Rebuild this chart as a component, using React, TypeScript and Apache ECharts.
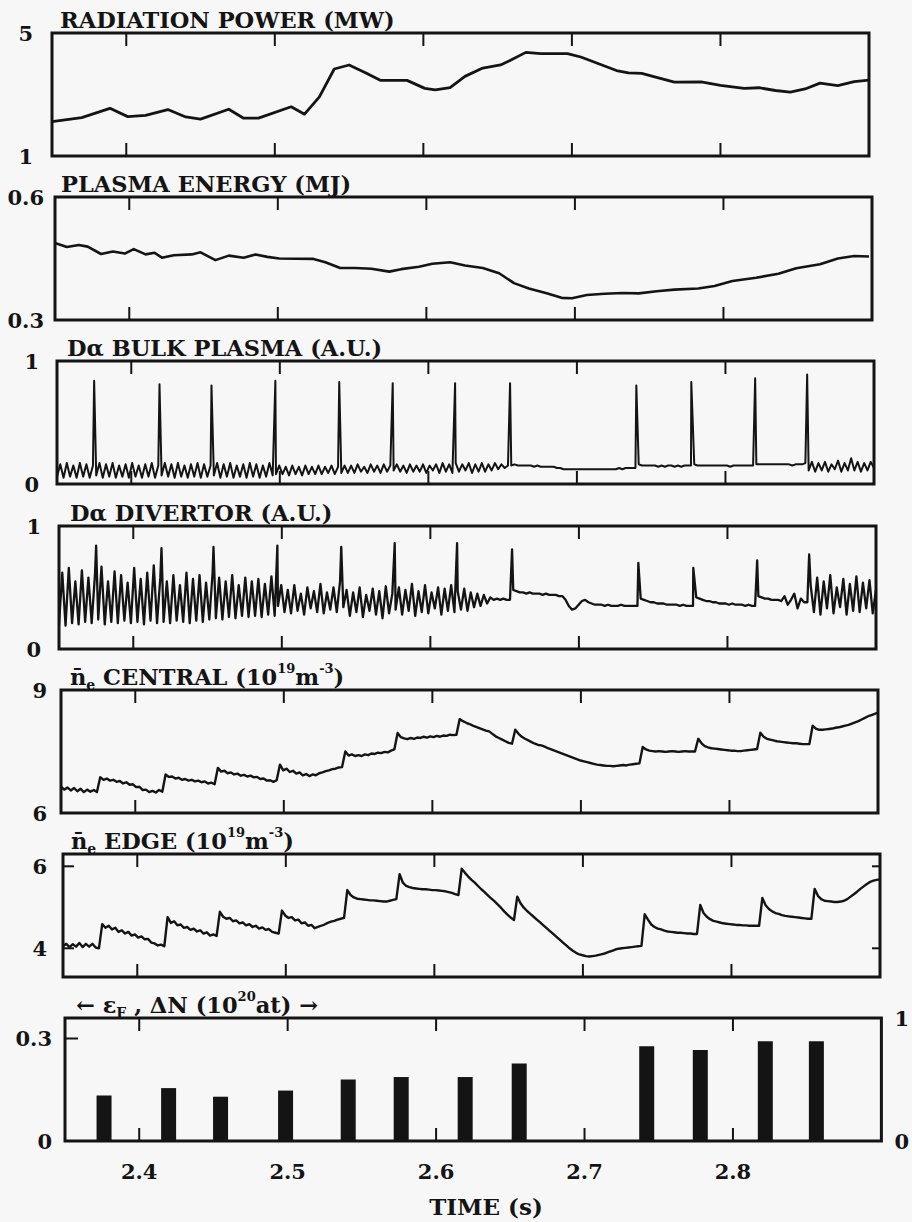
import React, { useEffect, useRef } from "react";
import * as echarts from "echarts";

// ---------------- data ----------------
const T_MIN = 2.35;
const T_MAX = 2.9;
const timeTicks = [2.4, 2.5, 2.6, 2.7, 2.8];

const panelTitles = [
  "{t|RADIATION POWER (MW)}",
  "{t|PLASMA ENERGY (MJ)}",
  "{t|Dα BULK PLASMA (A.U.)}",
  "{t|Dα DIVERTOR (A.U.)}",
  "{t|n\u0304}{sub|e}{t| CENTRAL (10}{sup|19}{t|m}{sup|-3}{t|)}",
  "{t|n\u0304}{sub|e}{t| EDGE (10}{sup|19}{t|m}{sup|-3}{t|)}",
  "{t|← ε}{sub|F}{t| , ΔN (10}{sup|20}{t|at) →}",
];
const xAxisTitle = "TIME (s)";

const yRanges: [number, number][] = [
  [1, 5],
  [0.3, 0.6],
  [0, 1],
  [0, 1],
  [6, 9],
  [3.3, 6.3],
  [0, 0.36],
];
const yLabelValues = [[1, 5], [0.3, 0.6], [0, 1], [0, 1], [6, 9], [4, 6], [0, 0.3]];
const rightLabelValues = [0, 1];
const edgeDensityTicks = [4, 6];
const fuellingTicks = [0.3];

// radiation power (MW): [time s, value]
const radiationPower: [number, number][] = [
  [2.35, 2.12], [2.37, 2.25], [2.389, 2.55], [2.401, 2.28], [2.413, 2.32], [2.428, 2.51],
  [2.44, 2.27], [2.45, 2.2], [2.469, 2.52], [2.479, 2.23], [2.489, 2.23], [2.511, 2.6],
  [2.52, 2.36], [2.53, 2.92], [2.54, 3.83], [2.55, 3.96], [2.561, 3.71], [2.571, 3.46],
  [2.589, 3.46], [2.601, 3.2], [2.608, 3.15], [2.618, 3.22], [2.628, 3.59], [2.64, 3.86],
  [2.652, 3.96], [2.659, 4.12], [2.669, 4.37], [2.679, 4.33], [2.697, 4.33], [2.706, 4.22],
  [2.718, 4.0], [2.73, 3.78], [2.738, 3.7], [2.747, 3.69], [2.757, 3.56], [2.769, 3.4],
  [2.787, 3.41], [2.8, 3.3], [2.816, 3.2], [2.826, 3.22], [2.837, 3.13], [2.847, 3.08],
  [2.857, 3.18], [2.867, 3.37], [2.879, 3.29], [2.89, 3.42], [2.9, 3.47],
];

// plasma energy (MJ): [time s, value]
const plasmaEnergy: [number, number][] = [
  [2.35, 0.488], [2.358, 0.478], [2.366, 0.483], [2.372, 0.479], [2.381, 0.461], [2.389, 0.467],
  [2.397, 0.462], [2.403, 0.473], [2.411, 0.46], [2.417, 0.464], [2.422, 0.452], [2.43, 0.458],
  [2.442, 0.46], [2.448, 0.465], [2.458, 0.446], [2.467, 0.457], [2.477, 0.452], [2.485, 0.46],
  [2.493, 0.454], [2.501, 0.45], [2.524, 0.449], [2.532, 0.441], [2.542, 0.427], [2.552, 0.427],
  [2.563, 0.425], [2.575, 0.418], [2.583, 0.424], [2.595, 0.43], [2.604, 0.437], [2.616, 0.441],
  [2.626, 0.433], [2.638, 0.427], [2.649, 0.414], [2.659, 0.39], [2.669, 0.377], [2.681, 0.365],
  [2.691, 0.354], [2.698, 0.353], [2.708, 0.361], [2.72, 0.364], [2.732, 0.366], [2.743, 0.365],
  [2.755, 0.37], [2.767, 0.374], [2.783, 0.377], [2.794, 0.383], [2.806, 0.395], [2.822, 0.403],
  [2.837, 0.413], [2.849, 0.426], [2.865, 0.436], [2.877, 0.45], [2.888, 0.456], [2.898, 0.455],
];

// ELM spikes
const elmTimes = [2.375, 2.419, 2.454, 2.497, 2.54, 2.576, 2.618, 2.655, 2.74, 2.777, 2.82, 2.855];
const bulkElmPeaks = [0.84, 0.81, 0.8, 0.84, 0.83, 0.82, 0.82, 0.82, 0.8, 0.83, 0.86, 0.89];
const divertorElmPeaks = [0.84, 0.82, 0.83, 0.84, 0.83, 0.86, 0.86, 0.81, 0.7, 0.66, 0.72, 0.77];

// sampled traces: one value every SAMPLE_DT seconds from SAMPLE_T0
const SAMPLE_T0 = 2.35;
const SAMPLE_DT = 0.0022;

// D-alpha bulk plasma, percent of full scale
const daBulk = [
  6, 16, 5, 17, 6, 15, 5, 17, 6, 16,
  5, 15, 7, 17, 5, 16, 6, 17, 5, 15,
  6, 16, 5, 17, 6, 15, 5, 16, 6, 17,
  5, 15, 7, 17, 6, 16, 5, 17, 6, 15,
  5, 16, 6, 17, 5, 16, 6, 15, 7, 17,
  5, 16, 6, 17, 5, 15, 6, 16, 5, 17,
  6, 16, 5, 15, 6, 17, 7, 8, 15, 8,
  14, 7, 15, 8, 14, 7, 15, 8, 14, 8,
  15, 8, 14, 9, 15, 8, 14, 9, 15, 9,
  15, 9, 16, 10, 14, 9, 16, 10, 15, 9,
  16, 10, 15, 11, 16, 10, 15, 9, 16, 10,
  15, 10, 16, 9, 15, 11, 16, 9, 17, 10,
  16, 9, 17, 10, 16, 11, 17, 9, 16, 10,
  17, 10, 16, 11, 17, 12, 16, 13, 15, 15,
  16, 15, 15, 15, 15, 15, 14, 15, 14, 14,
  14, 14, 14, 13, 13, 12, 12, 12, 12, 12,
  12, 12, 12, 12, 12, 12, 12, 12, 12, 12,
  12, 12, 13, 12, 13, 13, 13, 13, 16, 15,
  15, 15, 15, 15, 14, 15, 14, 15, 15, 14,
  15, 14, 15, 15, 15, 16, 15, 15, 15, 15,
  15, 15, 15, 15, 15, 15, 14, 15, 15, 15,
  15, 15, 15, 15, 16, 16, 16, 16, 16, 16,
  16, 16, 16, 16, 16, 15, 16, 16, 16, 17,
  11, 18, 10, 17, 11, 18, 10, 16, 12, 19,
  10, 17, 11, 21, 11, 18, 10, 17, 11, 18,
  13,
];

// D-alpha divertor, percent of full scale
const daDivertor = [
  20, 62, 19, 66, 21, 55, 20, 64, 22, 58,
  21, 60, 24, 67, 20, 55, 22, 63, 21, 60,
  23, 54, 21, 66, 22, 57, 20, 62, 23, 68,
  21, 58, 22, 55, 21, 60, 23, 52, 22, 62,
  21, 57, 23, 60, 22, 54, 24, 62, 25, 58,
  24, 55, 26, 60, 25, 52, 27, 58, 26, 55,
  27, 57, 26, 53, 28, 59, 27, 35, 52, 30,
  48, 29, 52, 31, 45, 28, 50, 33, 47, 30,
  53, 29, 46, 32, 50, 30, 55, 34, 48, 27,
  46, 30, 50, 26, 44, 31, 49, 28, 47, 25,
  51, 29, 45, 32, 50, 28, 48, 31, 53, 27,
  47, 30, 52, 29, 46, 33, 50, 28, 49, 31,
  52, 30, 47, 32, 49, 31, 46, 34, 45, 35,
  44, 37, 42, 40, 41, 40, 41, 40, 40, 48,
  47, 46, 46, 45, 46, 45, 45, 45, 44, 45,
  44, 44, 44, 43, 43, 40, 35, 32, 33, 36,
  39, 40, 38, 37, 36, 36, 36, 35, 36, 35,
  35, 35, 36, 35, 35, 35, 35, 35, 41, 40,
  39, 38, 38, 37, 37, 37, 36, 36, 36, 36,
  35, 36, 35, 35, 35, 42, 41, 40, 39, 39,
  38, 38, 37, 37, 37, 36, 37, 36, 36, 36,
  35, 36, 35, 35, 43, 42, 41, 41, 40, 40,
  40, 39, 43, 36, 40, 45, 33, 41, 38, 38,
  52, 30, 58, 28, 55, 33, 60, 29, 50, 34,
  57, 28, 53, 31, 59, 30, 54, 33, 56, 29,
  48,
];

// central line-averaged density, units of 1e17 m^-3 (value / 100 = 1e19 m^-3)
const neCentral = [
  664, 657, 662, 655, 661, 653, 659, 651, 657, 652,
  656, 651, 687, 681, 684, 679, 681, 676, 678, 672,
  675, 669, 670, 663, 664, 656, 657, 651, 654, 650,
  656, 652, 694, 688, 689, 684, 686, 681, 683, 679,
  681, 677, 679, 675, 677, 672, 674, 670, 710, 701,
  703, 697, 699, 694, 696, 691, 693, 689, 691, 687,
  688, 683, 684, 679, 680, 676, 680, 718, 704, 708,
  700, 703, 696, 699, 692, 695, 690, 694, 692, 697,
  699, 702, 704, 707, 708, 711, 712, 750, 740, 743,
  739, 741, 739, 743, 741, 745, 744, 747, 746, 749,
  748, 752, 755, 795, 785, 782, 780, 783, 781, 784,
  783, 786, 784, 787, 785, 788, 786, 789, 788, 791,
  790, 791, 829, 824, 820, 817, 813, 810, 807, 804,
  801, 799, 793, 787, 783, 779, 775, 771, 769, 803,
  793, 786, 781, 777, 773, 769, 766, 765, 762, 758,
  755, 752, 749, 746, 743, 740, 737, 734, 731, 728,
  726, 724, 722, 720, 718, 717, 716, 715, 715, 714,
  715, 716, 717, 716, 718, 719, 720, 721, 761, 755,
  752, 751, 750, 751, 750, 749, 750, 751, 750, 749,
  750, 751, 750, 750, 750, 781, 770, 763, 760, 758,
  757, 756, 755, 754, 753, 752, 752, 751, 751, 752,
  753, 754, 755, 756, 796, 786, 781, 779, 777, 775,
  774, 773, 772, 771, 770, 770, 769, 768, 768, 768,
  813, 806, 803, 803, 804, 805, 806, 808, 809, 811,
  813, 815, 818, 821, 824, 828, 832, 836, 839, 842,
  845,
];

// edge line-averaged density, units of 1e17 m^-3
const neEdge = [
  405, 411, 403, 410, 404, 413, 403, 411, 404, 411,
  402, 400, 459, 450, 455, 446, 450, 440, 444, 436,
  440, 431, 434, 426, 429, 422, 423, 414, 412, 407,
  409, 405, 476, 462, 466, 456, 458, 450, 452, 445,
  448, 441, 444, 436, 439, 431, 434, 430, 489, 477,
  472, 474, 466, 468, 461, 463, 456, 459, 452, 455,
  448, 451, 445, 447, 440, 438, 436, 492, 480, 474,
  476, 468, 470, 461, 463, 455, 457, 449, 452, 455,
  458, 462, 465, 467, 470, 472, 474, 542, 530, 524,
  521, 520, 519, 518, 517, 517, 516, 515, 514, 514,
  516, 518, 520, 581, 560, 552, 549, 547, 546, 545,
  544, 544, 543, 542, 542, 541, 540, 539, 537, 535,
  532, 530, 594, 584, 575, 567, 560, 552, 544, 537,
  529, 522, 515, 507, 499, 490, 482, 475, 469, 526,
  510, 499, 491, 484, 477, 470, 463, 456, 449, 442,
  435, 428, 421, 414, 407, 400, 394, 389, 385, 383,
  381, 380, 381, 382, 384, 386, 388, 391, 394, 397,
  399, 400, 401, 402, 403, 404, 405, 406, 483, 470,
  458, 452, 448, 446, 443, 441, 440, 439, 438, 438,
  437, 436, 436, 435, 435, 506, 486, 477, 471, 467,
  465, 463, 461, 460, 459, 458, 457, 457, 456, 456,
  455, 455, 455, 455, 523, 505, 496, 490, 486, 484,
  481, 479, 478, 477, 476, 475, 474, 473, 472, 472,
  545, 528, 520, 516, 515, 514, 513, 513, 514, 516,
  520, 526, 532, 538, 545, 551, 557, 562, 565, 567,
  568,
];

// pellet injections: time (s) and particle content increase (right axis, 0..1)
const pelletTimes = [2.3763, 2.4198, 2.4548, 2.4986, 2.5408, 2.5765, 2.6196, 2.656, 2.7419, 2.778, 2.8218, 2.8562];
const deltaN = [0.37, 0.43, 0.36, 0.41, 0.5, 0.52, 0.52, 0.63, 0.77, 0.74, 0.81, 0.81];

// ---------------- layout / style ----------------
const INK = "#141414";
const FONT = '"DejaVu Serif", serif';
const PANEL_LEFT = [52, 55, 57, 59, 61, 63, 65];
const PANEL_TOP = [33, 197, 361, 526, 690, 854, 1018];
const PANEL_W = 817;
const PANEL_H = 123;
const TITLE_X = [60, 61, 67, 70, 70, 71, 76];
const Y_LABEL_MARGIN = [19, 11, 18, 18, 14, 16, 13];
const TICK_PX = 13;

function buildTrace(values: number[], scale: number, extraT?: number[], extraV?: number[]) {
  const pts: number[][] = values.map((v, i) => [SAMPLE_T0 + i * SAMPLE_DT, v * scale]);
  if (extraT && extraV) extraT.forEach((t, k) => pts.push([t, extraV[k]]));
  pts.sort((a, b) => a[0] - b[0]);
  return pts;
}

const labelFont = {
  fontFamily: FONT,
  fontWeight: "bold" as const,
  fontSize: 21,
  color: INK,
};

const timeTitle = {
  id: "time-title",
  type: "text",
  x: 486,
  y: 1206,
  z: 100,
  style: {
    text: xAxisTitle,
    font: `bold 23px ${FONT}`,
    fill: INK,
    align: "center",
    verticalAlign: "middle",
  },
};

function buildOption() {
  const grids = PANEL_LEFT.map((l, p) => ({
    left: l,
    top: PANEL_TOP[p],
    width: PANEL_W,
    height: PANEL_H,
    show: true,
    borderColor: INK,
    borderWidth: 3,
    backgroundColor: "transparent",
  }));

  const noLine = { show: false, onZero: false };
  const xAxes: any[] = [];
  for (let p = 0; p < 7; p++) {
    xAxes.push({
      type: "value",
      gridIndex: p,
      position: "bottom",
      min: T_MIN,
      max: T_MAX,
      axisLine: noLine,
      splitLine: { show: false },
      axisTick: { show: false },
      axisLabel:
        p === 6
          ? {
              show: true,
              customValues: timeTicks,
              formatter: (v: number) => v.toFixed(1),
              margin: 20,
              ...labelFont,
            }
          : { show: false },
    });
  }

  const yAxes: any[] = yRanges.map(([mn, mx], p) => ({
    type: "value",
    gridIndex: p,
    position: "left",
    min: mn,
    max: mx,
    axisLine: noLine,
    splitLine: { show: false },
    axisTick: { show: false },
    axisLabel: {
      show: true,
      customValues: yLabelValues[p],
      formatter: (v: number) => String(v),
      margin: Y_LABEL_MARGIN[p],
      ...labelFont,
    },
  }));
  yAxes.push({
    type: "value",
    gridIndex: 6,
    position: "right",
    min: 0,
    max: 1,
    axisLine: noLine,
    splitLine: { show: false },
    axisTick: { show: false },
    axisLabel: {
      show: true,
      customValues: rightLabelValues,
      formatter: (v: number) => String(v),
      margin: 13,
      ...labelFont,
    },
  });

  const rich = {
    t: { fontFamily: FONT, fontWeight: "bold", fontSize: 22.5, lineHeight: 30, color: INK, verticalAlign: "middle" },
    sup: { fontFamily: FONT, fontWeight: "bold", fontSize: 13, lineHeight: 14, color: INK, verticalAlign: "top" },
    sub: { fontFamily: FONT, fontWeight: "bold", fontSize: 14, lineHeight: 16, color: INK, verticalAlign: "bottom" },
  };

  const titles = panelTitles.map((text, p) => ({
    text,
    left: TITLE_X[p],
    top: PANEL_TOP[p] - 28.5,
    padding: 0,
    textStyle: { fontFamily: FONT, fontWeight: "bold", fontSize: 22.5, lineHeight: 30, color: INK, rich },
  }));

  const line = (x: number, y: number, data: any[], width: number) => ({
    type: "line",
    xAxisIndex: x,
    yAxisIndex: y,
    data,
    showSymbol: false,
    symbol: "none",
    lineStyle: { color: INK, width, join: "round" },
    silent: true,
  });

  return {
    animation: false,
    backgroundColor: "#f7f7f7",
    textStyle: { fontFamily: FONT },
    title: titles,
    grid: grids,
    xAxis: xAxes,
    yAxis: yAxes,
    graphic: [timeTitle],
    series: [
      line(0, 0, radiationPower, 2.8),
      line(1, 1, plasmaEnergy, 2.6),
      line(2, 2, buildTrace(daBulk, 0.01, elmTimes, bulkElmPeaks), 2),
      line(3, 3, buildTrace(daDivertor, 0.01, elmTimes, divertorElmPeaks), 2.3),
      line(4, 4, buildTrace(neCentral, 0.01), 2.4),
      line(5, 5, buildTrace(neEdge, 0.01), 2.4),
      {
        type: "bar",
        xAxisIndex: 6,
        yAxisIndex: 7,
        data: pelletTimes.map((t, k) => [t, deltaN[k]]),
        barWidth: 15,
        itemStyle: { color: INK },
        silent: true,
      },
    ],
  };
}

// tick marks placed with the chart's own axis scales (convertToPixel)
function buildTickGraphics(chart: echarts.ECharts) {
  const els: any[] = [timeTitle];
  const style = { stroke: INK, lineWidth: 2 };
  const seg = (a: number[], b: number[]) =>
    els.push({ type: "line", z: 100, silent: true, shape: { x1: a[0], y1: a[1], x2: b[0], y2: b[1] }, style });
  for (let p = 0; p < 7; p++) {
    const [yMin, yMax] = yRanges[p];
    const finder = { xAxisIndex: p, yAxisIndex: p };
    timeTicks.forEach((t) => {
      const b = chart.convertToPixel(finder, [t, yMin]) as number[];
      const top = chart.convertToPixel(finder, [t, yMax]) as number[];
      if (!b || !top) return;
      seg(b, [b[0], b[1] - TICK_PX]);
      seg(top, [top[0], top[1] + TICK_PX]);
    });
  }
  const yTicks = (p: number, values: number[], leftLen: number, rightLen: number) => {
    const finder = { xAxisIndex: p, yAxisIndex: p };
    values.forEach((v) => {
      const l = chart.convertToPixel(finder, [T_MIN, v]) as number[];
      const r = chart.convertToPixel(finder, [T_MAX, v]) as number[];
      if (!l || !r) return;
      if (leftLen > 0) seg(l, [l[0] + leftLen, l[1]]);
      if (rightLen > 0) seg(r, [r[0] - rightLen, r[1]]);
    });
  };
  yTicks(5, edgeDensityTicks, 11, 8);
  yTicks(6, fuellingTicks, TICK_PX, 0);
  return els;
}

export default function App() {
  const ref = useRef<HTMLDivElement>(null);
  useEffect(() => {
    if (!ref.current) return;
    const chart = echarts.init(ref.current, undefined, { renderer: "svg" });
    chart.setOption(buildOption() as any);
    chart.setOption({ graphic: buildTickGraphics(chart) } as any, { replaceMerge: ["graphic"] });
    return () => chart.dispose();
  }, []);
  return (
    <div
      ref={ref}
      style={{ position: "absolute", left: 0, top: 0, width: 912, height: 1222, background: "#f7f7f7" }}
    />
  );
}
